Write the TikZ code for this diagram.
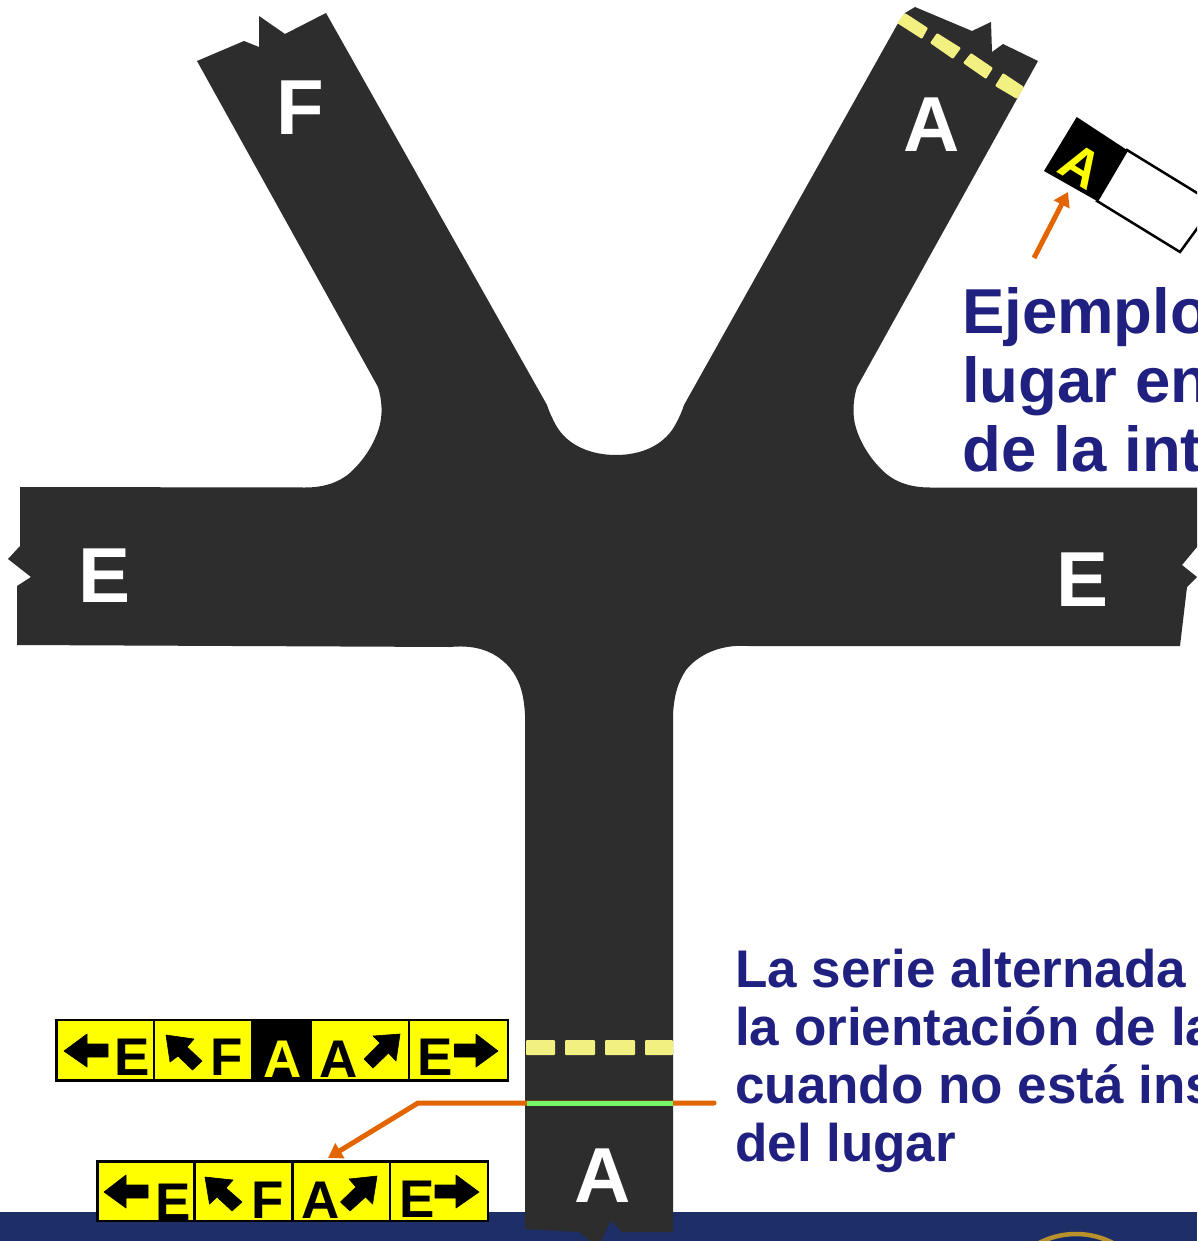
\documentclass[tikz,border=0pt]{standalone}
\usepackage{fontspec}
\setmainfont{Liberation Sans}
\usetikzlibrary{arrows.meta}
\definecolor{road}{HTML}{2D2D2D}
\definecolor{dash}{HTML}{F2F081}
\definecolor{stopbar}{HTML}{77F56A}
\definecolor{orangeline}{HTML}{E36500}
\definecolor{band}{HTML}{1E2E66}
\definecolor{navytext}{HTML}{1F2080}
\definecolor{signyellow}{HTML}{FFFF00}
\definecolor{gold}{HTML}{B8912B}
\definecolor{logoblue}{HTML}{14296B}
\tikzset{
  x=1pt,y=-1pt,
  roadlabel/.style={text=white,font=\bfseries\fontsize{78}{78}\selectfont,inner sep=0pt,anchor=base},
  signlabel/.style={text=black,font=\bfseries\fontsize{53}{53}\selectfont,inner sep=0pt,anchor=base},
  bodytext/.style={text=navytext,inner sep=0pt,anchor=base west},
  bigtext/.style={bodytext,font=\bfseries\fontsize{63.5}{63.5}\selectfont},
  smalltext/.style={bodytext,font=\bfseries\fontsize{53}{53}\selectfont},
  signframe/.style={draw=black,line width=2.7pt,fill=signyellow},
  signdiv/.style={draw=black,line width=2.7pt},
  signarrow/.style={fill=black,draw=black,line width=0.6pt,line join=round},
  dashbar/.style={fill=dash,rounded corners=1pt},
  leader/.style={draw=orangeline,line width=5pt,line cap=round,line join=round},
  leaderhead/.style={leader,-{Triangle[length=14pt,width=17pt]}},
}
\begin{document}
\begin{tikzpicture}
\useasboundingbox (0,0) rectangle (1197,1241);
\clip (0,0) rectangle (1197,1241);
\fill[white] (0,0) rectangle (1197,1241);
% band
\fill[band] (0,1211.5) rectangle (1197,1241);
\draw[gold,line width=4.5pt,fill=logoblue] (1076,1314) circle[radius=80];
% road
\fill[road] (197,61) -- (244,41) -- (259,47) -- (259,16) -- (285,34) -- (326,13)
  -- (547,405) .. controls (550,414) and (553,420) .. (557,427)
  .. controls (568,445) and (590,455) .. (616,455)
  .. controls (642,455) and (663,445) .. (674,427)
  .. controls (678,420) and (681,414) .. (684,405)
  -- (897,25) -- (905,13) -- (915,7) -- (972,31) -- (991,22) -- (992,52) -- (1003,44) -- (1038,61)
  -- (857,387) .. controls (853,400) and (852,415) .. (856,428)
  .. controls (861,444) and (870,458) .. (882,470)
  .. controls (894,482) and (910,487.5) .. (930,487.5)
  -- (1197,487.5) -- (1197,547) -- (1182,565) -- (1197,577) -- (1187,587) -- (1180,646)
  -- (748,646) .. controls (720,644) and (698,655) .. (686,670)
  .. controls (678,682) and (674,695) .. (673,715)
  -- (673,1232) -- (622,1232) -- (611,1220) -- (601,1241) -- (590,1241) -- (579,1232) -- (525,1229)
  -- (525,715) .. controls (524,695) and (520,680) .. (510,668)
  .. controls (498,654) and (480,644) .. (450,647)
  -- (17,645) -- (17,586) -- (31,577) -- (8,559) -- (20,546) -- (20,487) -- (305,487.5)
  .. controls (325,487.5) and (341,482) .. (353,470)
  .. controls (365,458) and (374,444) .. (379,428)
  .. controls (383,415) and (382,400) .. (378,387) -- cycle;
% dashes upper arm
\fill[dashbar] (897,23) -- (905,13) -- (928,28) -- (922,39) -- cycle;
\fill[dashbar] (930,43) -- (937,33) -- (961,48) -- (953,59) -- cycle;
\fill[dashbar] (963,63) -- (971,53) -- (993,68) -- (986,79) -- cycle;
\fill[dashbar] (995,86) -- (1003,73) -- (1024,87) -- (1017,99) -- cycle;
% dashes lower arm
\fill[dashbar] (526,1040) rectangle (555,1055);
\fill[dashbar] (565,1040) rectangle (595,1055);
\fill[dashbar] (605,1040) rectangle (635,1055);
\fill[dashbar] (645,1040) rectangle (673,1055);
% road letters
\node[roadlabel] (lblF) at (300.5,135) {F};
\node[roadlabel] (lblAup) at (932,152) {A};
\node[roadlabel] (lblEl) at (104.5,602) {E};
\node[roadlabel] (lblEr) at (1082,606) {E};
\node[roadlabel] (lblAlow) at (603,1202) {A};
% leader under stop bar
\coordinate (legA) at (714,1103);
\coordinate (legB) at (418,1103);
\coordinate (legC) at (328,1158);
\draw[leaderhead] (legA) -- (legB) -- (legC);
\fill[stopbar] (527,1100.7) rectangle (673,1106);
% sign 1
\draw[signframe] (56.5,1020) rectangle (508,1080.5);
\fill[black] (251,1020) rectangle (311.5,1080.5);
\draw[signdiv] (154,1020) -- (154,1080.5);
\draw[signdiv] (409,1020) -- (409,1080.5);
\fill[signarrow] (64,1051) -- (87,1034) -- (87,1044) -- (108,1044) -- (108,1057) -- (87,1057) -- (87,1067) -- cycle;
\node[signlabel] (s1e) at (132.5,1075) {E};
\fill[signarrow] (166,1035) -- (194,1039) -- (187,1047) -- (202,1061) -- (192.5,1070) -- (178,1056) -- (170,1062) -- cycle;
\node[signlabel] (s1f) at (227,1075) {F};
\node[signlabel,text=signyellow] (s1a) at (282.5,1077) {A};
\node[signlabel] (s1b) at (338.5,1077) {A};
\fill[signarrow] (400,1034) -- (373,1036) -- (380,1043) -- (364,1059) -- (373,1068) -- (388.5,1053) -- (396,1061) -- cycle;
\node[signlabel] (s1g) at (435,1075) {E};
\fill[signarrow] (498,1051) -- (476,1034) -- (476,1044) -- (454.5,1044) -- (454.5,1057) -- (476,1057) -- (476,1067) -- cycle;
% sign 2
\draw[signframe] (97.5,1161.5) rectangle (488,1221);
\draw[signdiv] (194.6,1161.5) -- (194.6,1221);
\draw[signdiv] (292.6,1161.5) -- (292.6,1221);
\draw[signdiv] (390,1161.5) -- (390,1221);
\fill[signarrow] (104,1192) -- (126,1175) -- (126,1185) -- (148,1185) -- (148,1198) -- (126,1198) -- (126,1208) -- cycle;
\node[signlabel] (s2e) at (173,1220) {E};
\fill[signarrow] (205,1177) -- (233,1180) -- (226,1188) -- (242,1202) -- (232,1211) -- (217,1197) -- (209.5,1204) -- cycle;
\node[signlabel] (s2f) at (268,1218) {F};
\node[signlabel] (s2a) at (320.5,1218) {A};
\fill[signarrow] (377,1176) -- (349,1179) -- (356,1187) -- (340.5,1202) -- (350,1211) -- (365.5,1197) -- (372.6,1204) -- cycle;
\node[signlabel] (s2g) at (417,1217) {E};
\fill[signarrow] (479,1192) -- (456,1175) -- (456,1185) -- (435,1185) -- (435,1198) -- (456,1198) -- (456,1208) -- cycle;
% rotated sign
\draw[black,line width=2.5pt,fill=white] (1127,150) -- (1215,204) -- (1180,252) -- (1097,201) -- cycle;
\fill[black] (1076.7,117) -- (1127,150) -- (1097,201) -- (1044,171) -- cycle;
\node[signlabel,text=signyellow,rotate=-31.5,anchor=center] (s3a) at (1081,166) {A};
\coordinate (ptA) at (1034,258);
\coordinate (ptB) at (1068,192);
\draw[leaderhead,line cap=butt] (ptA) -- (ptB);
% texts
\node[bigtext] (t1) at (962,333) {Ejemplo};
\node[bigtext] (t2) at (962,402) {lugar en};
\node[bigtext] (t3) at (962,471) {de la int};
\node[smalltext] (t4) at (735,987) {La serie alternada};
\node[smalltext] (t5) at (735,1045) {la orientación de la};
\node[smalltext] (t6) at (735,1103) {cuando no está ins};
\node[smalltext] (t7) at (735,1161) {del lugar};
\end{tikzpicture}
\end{document}
